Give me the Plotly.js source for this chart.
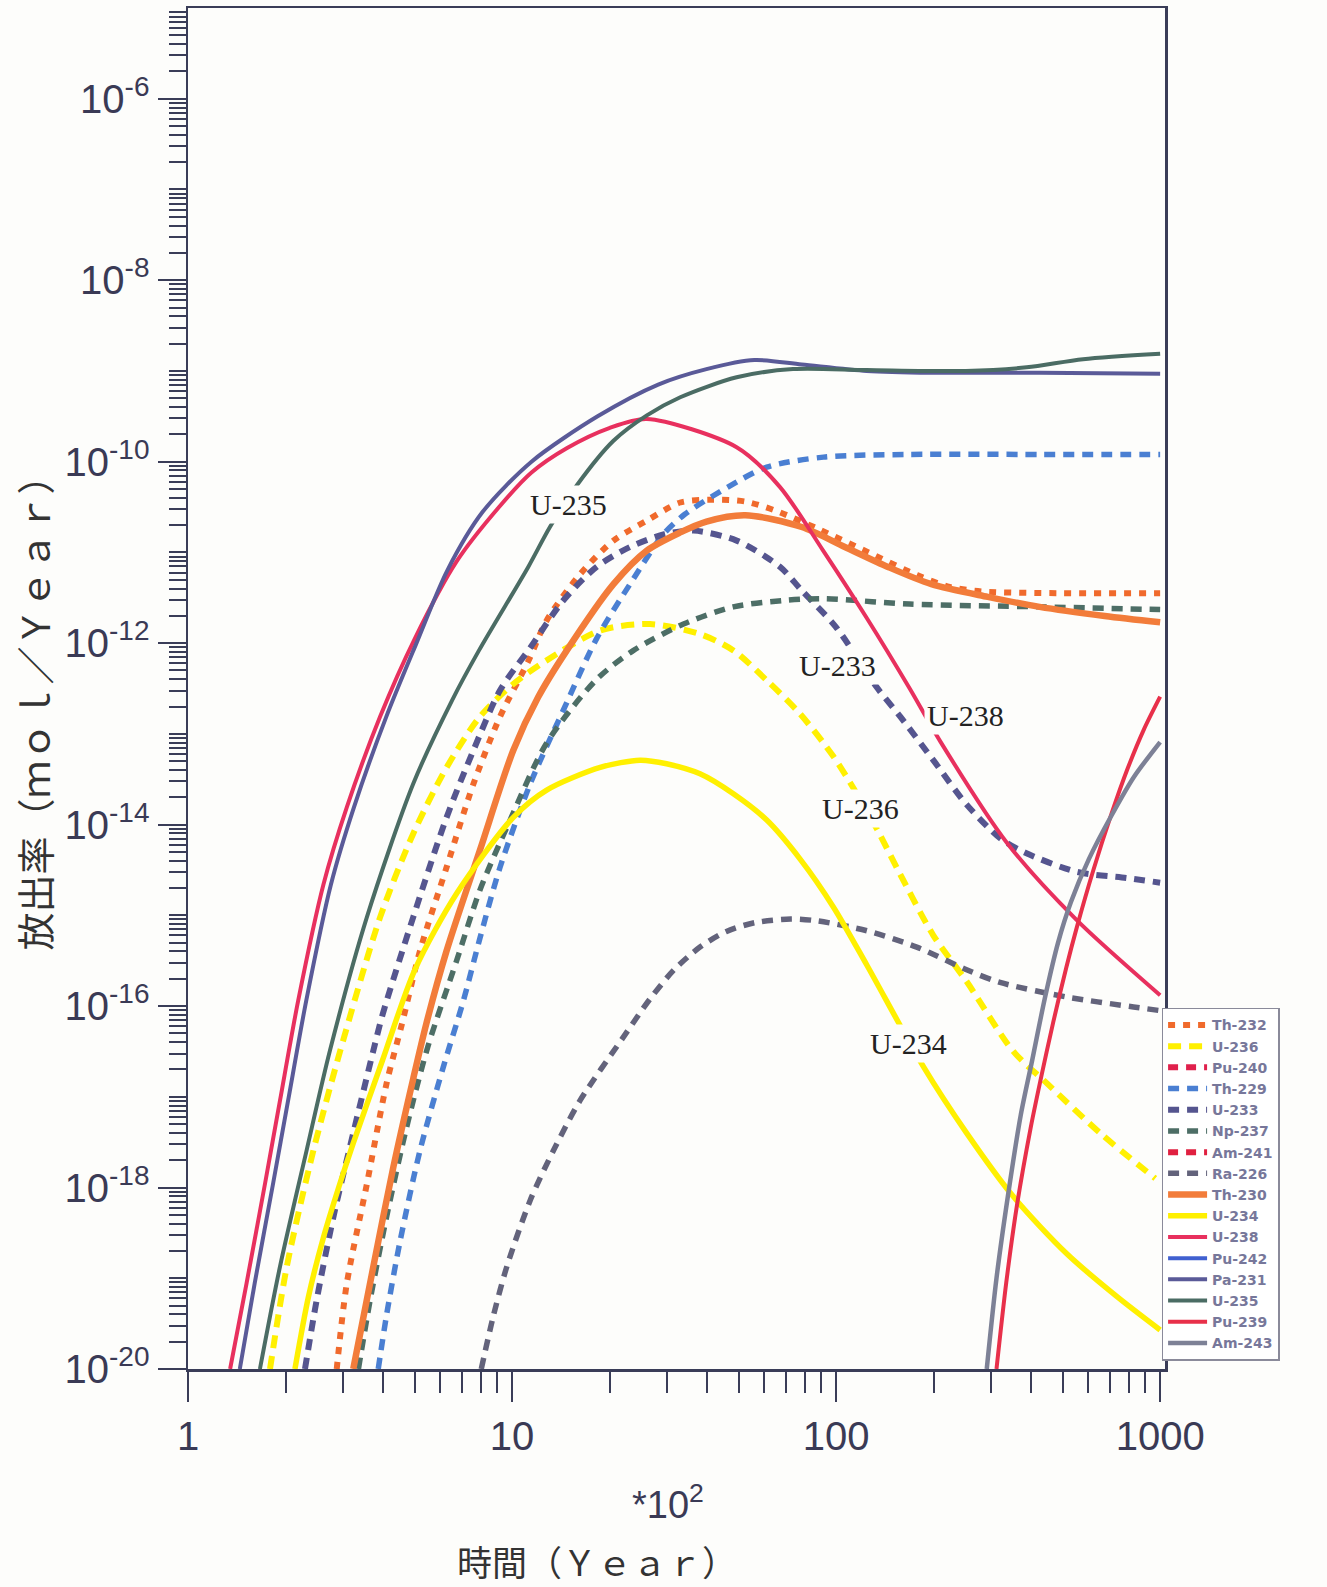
<!DOCTYPE html>
<html>
<head>
<meta charset="utf-8">
<script src="https://cdn.plot.ly/plotly-3.0.1.min.js"></script>
<style>
html,body{margin:0;padding:0;background:#fdfdfb;}
#chart{width:1327px;height:1587px;}
</style>
</head>
<body>
<div id="chart"></div>
<script>
// ---- data: time (*10^2 year) and release rate (mol/Year) ----
const th232X = [2.877,3.090,3.565,4.102,4.571,5.200,6.281,7.603,9.183,11.22,12.79,16.22,20.56,26.06,33.04,41.69,52.48,65.01,89.13,125.9,177.8,223.9,281.8,501.2,1000];
const th232Y = [1e-20,8.71e-20,1.096e-18,1.413e-17,6.31e-17,4.074e-16,3.388e-15,2.818e-14,1.549e-13,6.31e-13,1.778e-12,5.754e-12,1.349e-11,2.239e-11,3.548e-11,3.802e-11,3.631e-11,2.884e-11,1.778e-11,1e-11,5.623e-12,4.169e-12,3.715e-12,3.548e-12,3.548e-12];

const u236X = [1.791,2.018,2.438,2.951,3.917,4.955,6.281,7.962,10.09,12.79,18.71,26.67,38.02,48.19,61.09,77.45,98.17,113.2,133.7,157.8,199.5,252.9,352.4,446.7,653.1,966.1];
const u236Y = [1e-20,1.349e-19,2.570e-18,3.236e-17,9.55e-16,7.943e-15,4.266e-14,1.549e-13,3.548e-13,6.457e-13,1.380e-12,1.622e-12,1.259e-12,8.318e-13,3.890e-13,1.660e-13,5.623e-14,2.512e-14,8.913e-15,2.818e-15,6.026e-16,1.862e-16,3.162e-17,1.413e-17,3.981e-18,1.259e-18];

const pu240X = [];   // not visible in the plotted range
const pu240Y = [];

const th229X = [3.864,4.102,4.508,5.200,6.138,7.079,7.962,9.183,11.38,14.39,18.24,23.12,29.31,34.12,46.34,61.09,91.41,168.7,424.6,1000];
const th229Y = [1e-20,3.981e-20,2.512e-19,2.570e-18,2.138e-17,1.148e-16,5.623e-16,3.388e-15,2.818e-14,1.820e-13,1.122e-12,4.467e-12,1.585e-11,2.630e-11,5.248e-11,8.710e-11,1.122e-10,1.202e-10,1.202e-10,1.202e-10];

const u233X = [2.296,2.495,2.812,3.236,3.733,3.981,4.955,6.281,7.603,9.183,11.38,14.39,18.24,23.12,29.51,36.31,49.32,67.14,78.34,99.77,133.7,157.8,199.5,252.9,320.6,383.7,552.1,794.3,1000];
const u233Y = [1e-20,5.754e-20,4.786e-19,3.981e-18,3.236e-17,7.943e-17,9.55e-16,1.202e-14,6.607e-14,3.020e-13,8.913e-13,2.951e-12,6.918e-12,1.148e-11,1.585e-11,1.738e-11,1.349e-11,6.918e-12,3.802e-12,1.514e-12,3.236e-13,1.549e-13,5.129e-14,1.660e-14,7.079e-15,4.898e-15,3.020e-15,2.570e-15,2.291e-15];

const np237X = [3.357,3.648,4.102,4.732,5.495,6.745,7.962,9.863,12.79,18.24,23.71,33.81,48.19,68.71,91.41,168.7,424.6,1000];
const np237Y = [1e-20,5.754e-20,4.786e-19,4.677e-18,3.548e-17,3.162e-16,1.905e-15,1.122e-14,7.943e-14,3.981e-13,8.318e-13,1.622e-12,2.512e-12,2.951e-12,3.090e-12,2.692e-12,2.512e-12,2.344e-12];

const am241X = [];   // not visible in the plotted range
const am241Y = [];

const ra226X = [8.035,8.750,9.638,11.38,13.43,16.22,22.08,26.67,31.62,38.02,45.71,56.23,72.44,87.10,124.5,177.4,252.9,320.6,515.2,827.9,1000];
const ra226Y = [1e-20,3.802e-20,1.349e-19,7.244e-19,2.570e-18,9.12e-18,4.571e-17,1.202e-16,2.512e-16,4.467e-16,6.607e-16,8.318e-16,9.120e-16,8.710e-16,6.761e-16,4.467e-16,2.512e-16,1.820e-16,1.259e-16,9.772e-17,8.913e-17];

const th230X = [3.236,3.733,4.305,4.955,5.433,6.281,7.962,10.09,12.02,14.76,20.56,26.06,33.04,39.81,52.48,78.34,106.4,144.5,196.8,293.8,424.6,674.5,1000];
const th230Y = [1e-20,1.349e-19,1.698e-18,1.585e-17,6.310e-17,4.074e-16,5.248e-15,6.607e-14,2.512e-13,8.318e-13,4.467e-12,1.047e-11,1.660e-11,2.188e-11,2.570e-11,1.905e-11,1.148e-11,6.918e-12,4.467e-12,3.236e-12,2.512e-12,1.995e-12,1.698e-12];

const u234X = [2.138,2.355,2.618,2.917,3.236,3.981,5.012,6.745,10.09,12.79,18.71,24.83,29.99,38.02,48.19,61.09,77.45,98.17,124.5,186.2,252.9,352.4,515.2,734.5,1000];
const u234Y = [1e-20,6.310e-20,2.818e-19,1e-18,3.090e-18,2.512e-17,2.512e-16,1.738e-15,1.202e-14,2.399e-14,4.266e-14,5.129e-14,4.677e-14,3.631e-14,2.188e-14,1.122e-14,4.169e-15,1.230e-15,2.818e-16,2.138e-17,3.981e-18,7.943e-19,1.862e-19,6.310e-20,2.692e-20];

const u238X = [1.349,1.517,1.730,1.923,2.188,2.618,3.090,3.917,5.012,6.745,9.120,11.48,14.79,19.95,26.06,49.32,67.14,91.2,124.2,168.7,209.4,336.5,552.1,1000];
const u238Y = [1e-20,8.91e-20,1.122e-18,9.12e-18,1.148e-16,2.188e-15,1.549e-14,1.549e-13,1.122e-12,7.943e-12,3.162e-11,7.586e-11,1.413e-10,2.344e-10,2.951e-10,1.445e-10,5.248e-11,1.047e-11,1.905e-12,3.162e-13,8.318e-14,6.310e-15,8.913e-16,1.318e-16];

const pu242X = [];   // not visible in the plotted range
const pu242Y = [];

const pa231X = [1.445,1.607,1.832,2.037,2.317,2.761,3.251,4.093,5.070,6.310,8.128,11.48,18.37,28.25,39.81,55.98,78.34,124.2,196.8,424.6,1000];
const pa231Y = [1e-20,8.91e-20,1.122e-18,9.12e-18,1.148e-16,2.188e-15,1.549e-14,1.549e-13,1e-12,6.310e-12,2.818e-11,1e-10,3.162e-10,7.079e-10,1.047e-9,1.318e-9,1.175e-9,1e-9,9.55e-10,9.55e-10,9.33e-10];

const u235X = [1.667,1.923,2.323,2.742,3.565,4.955,6.531,7.907,11.22,13.09,15.85,20.56,26.06,33.04,49.32,73.62,124.2,251.2,387.3,578.1,1000];
const u235Y = [1e-20,1.349e-19,2.570e-18,3.236e-17,9.55e-16,2.818e-14,2.344e-13,8.318e-13,6.918e-12,1.905e-11,5.495e-11,1.698e-10,3.236e-10,5.129e-10,8.511e-10,1.047e-9,1.023e-9,1e-9,1.096e-9,1.349e-9,1.549e-9];

const pu239X = [312.6,335.0,361.4,398.1,426.6,467.7,512.9,553.4,622.3,707.9,794.3,891.3,1000];
const pu239Y = [1e-20,8.91e-20,6.310e-19,4.467e-18,1.479e-17,6.607e-17,2.630e-16,7.413e-16,3.162e-15,1.318e-14,4.169e-14,1.122e-13,2.570e-13];

const am243X = [291.7,312.6,338.8,371.5,402.7,441.6,484.2,530.9,602.6,707.9,831.8,1000];
const am243Y = [1e-20,1e-19,7.943e-19,6.310e-18,2.512e-17,1.259e-16,5.012e-16,1.413e-15,4.169e-15,1.259e-14,3.388e-14,8.128e-14];

// ---- ticks and labels ----
const xTickVals = [1, 10, 100, 1000];
const xTickText = ['1', '10', '100', '1000'];
const yTickVals = [1e-20, 1e-18, 1e-16, 1e-14, 1e-12, 1e-10, 1e-8, 1e-6];
const yTickText = ['10<sup>-20</sup>', '10<sup>-18</sup>', '10<sup>-16</sup>', '10<sup>-14</sup>', '10<sup>-12</sup>', '10<sup>-10</sup>', '10<sup>-8</sup>', '10<sup>-6</sup>'];
const curveLabels = ['U-235', 'U-233', 'U-238', 'U-236', 'U-234'];
const curveLabelX = [14.9, 100.7, 250.0, 118.6, 166.7];      // label centres, *10^2 year
const curveLabelY = [3.4e-11, 5.6e-13, 1.6e-13, 1.5e-14, 3.9e-17];

const xMinor = [];
for (let e = 0; e < 3; e++) for (let k = 2; k <= 9; k++) xMinor.push(k * Math.pow(10, e));
const yMinor = [];
for (let e = -20; e <= -6; e++) for (let k = 1; k <= 9; k++) {
  if (k === 1 && e % 2 === 0) continue;
  yMinor.push(k * Math.pow(10, e));
}

function tr(name, x, y, color, width, dash) {
  const empty = x.length === 0;
  return {
    type: 'scatter', mode: 'lines', name: name,
    x: empty ? [null] : x, y: empty ? [null] : y,
    line: {color: color, width: width, dash: dash || 'solid', shape: 'spline', smoothing: 0.8}
  };
}

const traces = [
  tr('Th-232', th232X, th232Y, '#f06a2c', 6, '7px,8px'),
  tr('U-236', u236X, u236Y, '#fff000', 6, '13px,8px'),
  tr('Pu-240', pu240X, pu240Y, '#e0204c', 6, '10px,8px'),
  tr('Th-229', th229X, th229Y, '#4a7fd2', 5.5, '11px,8px'),
  tr('U-233', u233X, u233Y, '#55558f', 6, '11px,8px'),
  tr('Np-237', np237X, np237Y, '#4d6e66', 5.5, '11px,8px'),
  tr('Am-241', am241X, am241Y, '#e02040', 6, '10px,8px'),
  tr('Ra-226', ra226X, ra226Y, '#63637b', 5.5, '11px,8px'),
  tr('Th-230', th230X, th230Y, '#f27c3a', 6.5),
  tr('U-234', u234X, u234Y, '#fff000', 5.5),
  tr('U-238', u238X, u238Y, '#e8305e', 4),
  tr('Pu-242', pu242X, pu242Y, '#4060d0', 4),
  tr('Pa-231', pa231X, pa231Y, '#5a5a98', 4),
  tr('U-235', u235X, u235Y, '#4b6c64', 4),
  tr('Pu-239', pu239X, pu239Y, '#e8304a', 4),
  tr('Am-243', am243X, am243Y, '#7d8196', 4.5)
];

const axisColor = '#3a3d58';
const annotations = curveLabels.map((t, i) => ({
  text: t, x: Math.log10(curveLabelX[i]), y: Math.log10(curveLabelY[i]), xref: 'x', yref: 'y',
  xanchor: 'center', yanchor: 'middle',
  showarrow: false, bgcolor: '#fdfdfb', borderpad: 2,
  font: {family: 'Liberation Serif', size: 30, color: '#222222'}
}));
annotations.push({
  text: '*10<sup>2</sup>', x: 0.491, y: -0.098, xref: 'paper', yref: 'paper',
  xanchor: 'center', yanchor: 'middle',
  showarrow: false, font: {family: 'Liberation Sans', size: 38, color: '#3a3a55'}
});
annotations.push({
  text: '時間（Ｙｅａｒ）', x: 0.419, y: -0.1405, xref: 'paper', yref: 'paper',
  xanchor: 'center', yanchor: 'middle',
  showarrow: false, font: {family: 'Noto Sans CJK JP', size: 35, color: '#333333'}
});
annotations.push({
  text: '放出率（ｍｏｌ／Ｙｅａｒ）', x: -0.1585, y: 0.489, xref: 'paper', yref: 'paper',
  xanchor: 'center', yanchor: 'middle',
  textangle: -90, showarrow: false, font: {family: 'Noto Sans CJK JP', size: 38, color: '#333333'}
});

const layout = {
  width: 1327, height: 1587,
  margin: {l: 188, r: 162, t: 8, b: 218, autoexpand: false},
  paper_bgcolor: '#fdfdfb', plot_bgcolor: '#fdfdfb',
  font: {family: 'Liberation Sans', color: '#3a3a55'},
  showlegend: true,
  legend: {
    x: 0.9965, xanchor: 'left', y: 0.006, yanchor: 'bottom',
    bgcolor: '#ffffff', bordercolor: '#8a8a9a', borderwidth: 1.5,
    font: {family: 'DejaVu Sans', size: 14, color: '#77779a', weight: 'bold'},
    tracegroupgap: 0, itemwidth: 39
  },
  xaxis: {
    type: 'log', range: [0, 3.015], tickmode: 'array', tickvals: xTickVals, ticktext: xTickText,
    ticks: 'outside', ticklen: 30, tickwidth: 2, tickcolor: axisColor,
    showline: true, linecolor: axisColor, linewidth: 2.5, mirror: true,
    showgrid: false, zeroline: false, ticklabelstandoff: 0,
    tickfont: {family: 'Liberation Sans', size: 40, color: '#3a3a55'},
    minor: {tickmode: 'array', tickvals: xMinor, ticks: 'outside', ticklen: 21, tickwidth: 2, tickcolor: axisColor, showgrid: false}
  },
  yaxis: {
    type: 'log', range: [-20, -5], tickmode: 'array', tickvals: yTickVals, ticktext: yTickText,
    ticks: 'outside', ticklen: 28, tickwidth: 2, tickcolor: axisColor,
    showline: true, linecolor: axisColor, linewidth: 2.5, mirror: true,
    showgrid: false, zeroline: false, ticklabelstandoff: 0,
    tickfont: {family: 'Liberation Sans', size: 40, color: '#3a3a55'},
    minor: {tickmode: 'array', tickvals: yMinor, ticks: 'outside', ticklen: 17, tickwidth: 2, tickcolor: axisColor, showgrid: false}
  },
  annotations: annotations
};

Plotly.newPlot('chart', traces, layout, {displayModeBar: false, staticPlot: true});
</script>
</body>
</html>
